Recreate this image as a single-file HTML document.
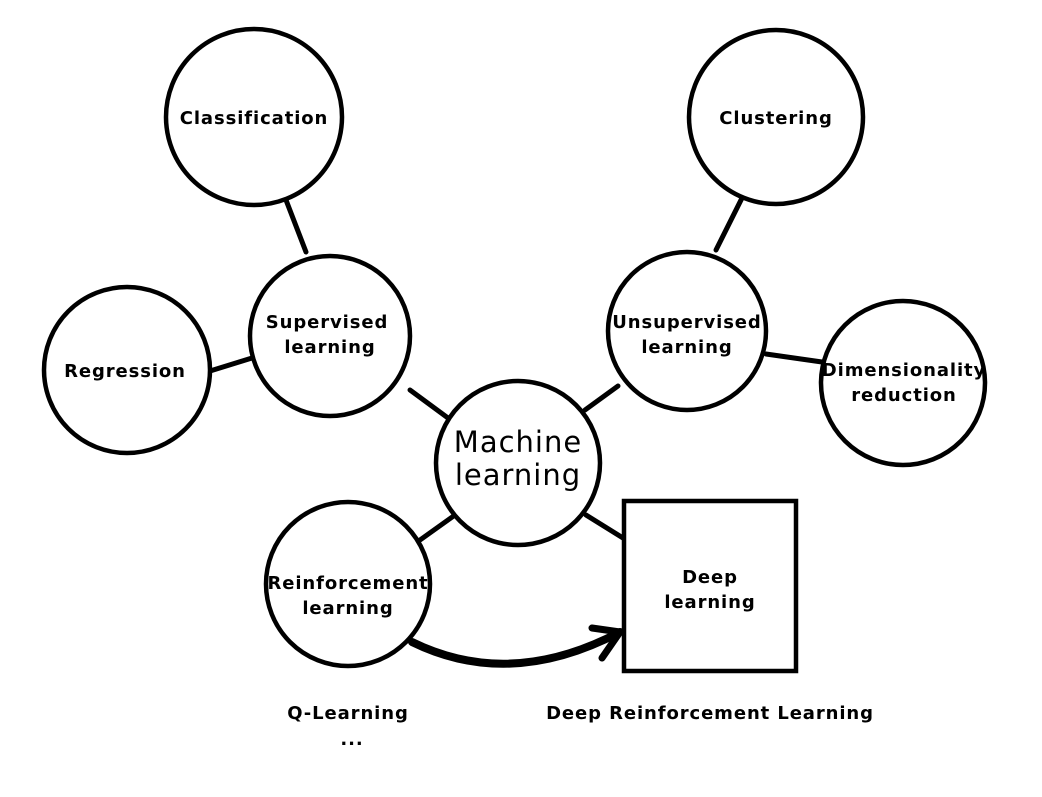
<!DOCTYPE html>
<html><head><style>
html,body{margin:0;padding:0;background:#fff;}
svg text{font-family:"DejaVu Sans","Liberation Sans",sans-serif;fill:#000;text-anchor:middle;}
</style></head><body>
<svg width="1042" height="792" viewBox="0 0 1042 792" xmlns="http://www.w3.org/2000/svg">
<g stroke="#000" stroke-width="5" fill="none" stroke-linecap="round">
<line x1="286" y1="200" x2="306" y2="252"/>
<line x1="210" y1="371" x2="252" y2="358"/>
<line x1="410" y1="390" x2="448" y2="418"/>
<line x1="742" y1="198" x2="716" y2="250"/>
<line x1="766" y1="354" x2="822" y2="362"/>
<line x1="618" y1="386" x2="585" y2="410"/>
<line x1="455" y1="515" x2="420" y2="540"/>
<line x1="586" y1="515" x2="623" y2="538"/>
</g>
<g stroke="#000" stroke-width="4.5" fill="#fff">
<circle cx="254" cy="117" r="88"/>
<circle cx="776" cy="117" r="87"/>
<circle cx="330" cy="336" r="80"/>
<circle cx="127" cy="370" r="83"/>
<circle cx="687" cy="331" r="79"/>
<circle cx="903" cy="383" r="82"/>
<circle cx="518" cy="463" r="82"/>
<circle cx="348" cy="584" r="82"/>
<rect x="624" y="501" width="172" height="170"/>
</g>
<path d="M412 642 Q510 690 620 632" stroke="#000" stroke-width="8" fill="none" stroke-linecap="round"/>
<path d="M592 628 L620 632 L602 658" stroke="#000" stroke-width="7" fill="none" stroke-linecap="round" stroke-linejoin="round"/>
<g font-size="18" font-weight="bold" letter-spacing="0.9">
<text x="254" y="124">Classification</text>
<text x="776" y="124">Clustering</text>
<text x="327" y="328">Supervised</text>
<text x="330" y="353">learning</text>
<text x="125" y="377">Regression</text>
<text x="687" y="328">Unsupervised</text>
<text x="687" y="353">learning</text>
<text x="904" y="376">Dimensionality</text>
<text x="904" y="401">reduction</text>
<text x="348" y="589">Reinforcement</text>
<text x="348" y="614">learning</text>
<text x="710" y="583">Deep</text>
<text x="710" y="608">learning</text>
<text x="348" y="719">Q-Learning</text>
<text x="352" y="745">...</text>
<text x="710" y="719">Deep Reinforcement Learning</text>
</g>
<g font-size="29" letter-spacing="1">
<text x="518" y="452">Machine</text>
<text x="518" y="485">learning</text>
</g>
</svg>
</body></html>
